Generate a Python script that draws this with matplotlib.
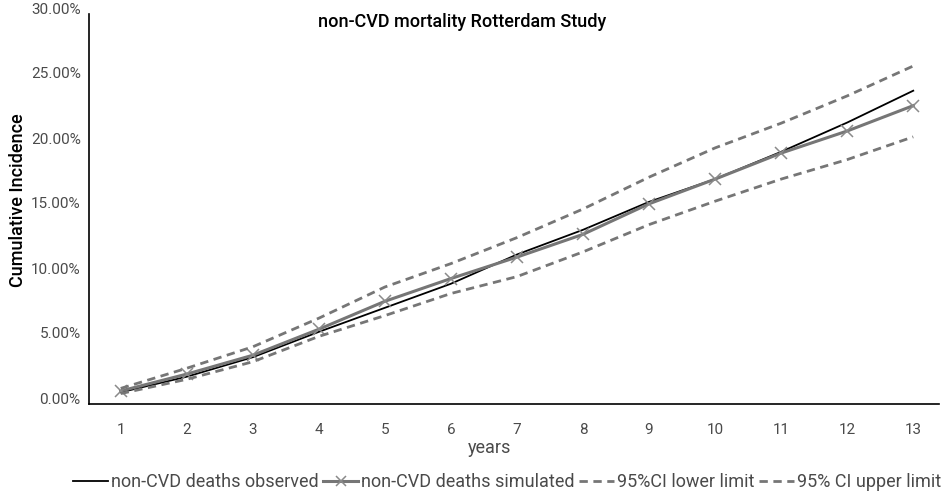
#!/usr/bin/env python3

import numpy as np
import matplotlib
matplotlib.use('Agg')
import matplotlib.pyplot as plt
from matplotlib.ticker import FuncFormatter
from matplotlib.transforms import ScaledTranslation

years = [1, 2, 3, 4, 5, 6, 7, 8, 9, 10, 11, 12, 13]
# cumulative incidence in percent
observed = [0.9, 2.1, 3.6, 5.55, 7.4, 9.25, 11.5, 13.4, 15.55, 17.3, 19.4, 21.65, 24.1]
simulated = [1.0, 2.3, 3.75, 5.75, 7.9, 9.65, 11.3, 13.05, 15.4, 17.3, 19.3, 21.0, 22.95]
ci_lower = [0.8, 1.9, 3.25, 5.2, 6.8, 8.5, 9.8, 11.7, 13.8, 15.6, 17.3, 18.8, 20.55]
ci_upper = [1.2, 2.75, 4.4, 6.6, 9.0, 10.8, 12.8, 15.0, 17.45, 19.7, 21.6, 23.7, 26.0]
y_ticks = [0, 5, 10, 15, 20, 25, 30]

plt.rcParams['font.family'] = ['Roboto', 'DejaVu Sans']

GREY = '#767676'
TEXT_COLOR = '#4a4a4a'


def main():
    fig = plt.figure(figsize=(9.47, 4.99), dpi=100)
    ax = fig.add_axes([89/947, 1-404/499, (939-89)/947, (404-14)/499])

    ax.plot(years, observed, color='black', lw=1.3, label='non-CVD deaths observed')
    ax.plot(years, simulated, color=GREY, lw=2.2, marker='x', ms=9, mew=1.1,
            mec='#8a8a8a', label='non-CVD deaths simulated')
    ax.plot(years, ci_lower, color=GREY, lw=2.0, ls=(0, (3, 2)), label='95%CI lower limit')
    ax.plot(years, ci_upper, color=GREY, lw=2.0, ls=(0, (3, 2)), label='95% CI upper limit')

    ax.set_xlim(0.52, 13.39)
    ax.set_ylim(0, 30)
    ax.set_xticks(years)
    ax.set_yticks(y_ticks)
    ax.yaxis.set_major_formatter(FuncFormatter(lambda v, p: f'{v:.2f}%'))

    for s in ['top', 'right']:
        ax.spines[s].set_visible(False)
    for s in ['left', 'bottom']:
        ax.spines[s].set_linewidth(1.2)
        ax.spines[s].set_color('black')

    ax.tick_params(axis='both', length=0, labelsize=11, labelcolor=TEXT_COLOR)
    ax.tick_params(axis='x', pad=14)
    ax.tick_params(axis='y', pad=6)
    # y labels sit a bit above their values in the original
    shift = ScaledTranslation(0, 0.06, fig.dpi_scale_trans)
    for lab in ax.get_yticklabels():
        lab.set_transform(lab.get_transform() + shift)

    fig.text(462/947, 1-22/499, 'non-CVD mortality Rotterdam Study', ha='center', va='center',
             fontsize=13, fontweight='medium', color='black')
    fig.text(18/947, 1-200/499, 'Cumulative Incidence', rotation=90, ha='center', va='center',
             fontsize=13, fontweight='medium', color='black')
    fig.text(489/947, 1-448/499, 'years', ha='center', va='center',
             fontsize=13, color=TEXT_COLOR)

    leg = fig.legend(loc='center', bbox_to_anchor=(507/947, 1-482/499), ncol=4, frameon=False,
                     handlelength=1.95, handletextpad=0.15, columnspacing=0.25,
                     markerscale=0.8, prop={'size': 13})
    for t in leg.get_texts():
        t.set_color(TEXT_COLOR)

    fig.savefig('out.png', dpi=100)


if __name__ == "__main__":
    main()
